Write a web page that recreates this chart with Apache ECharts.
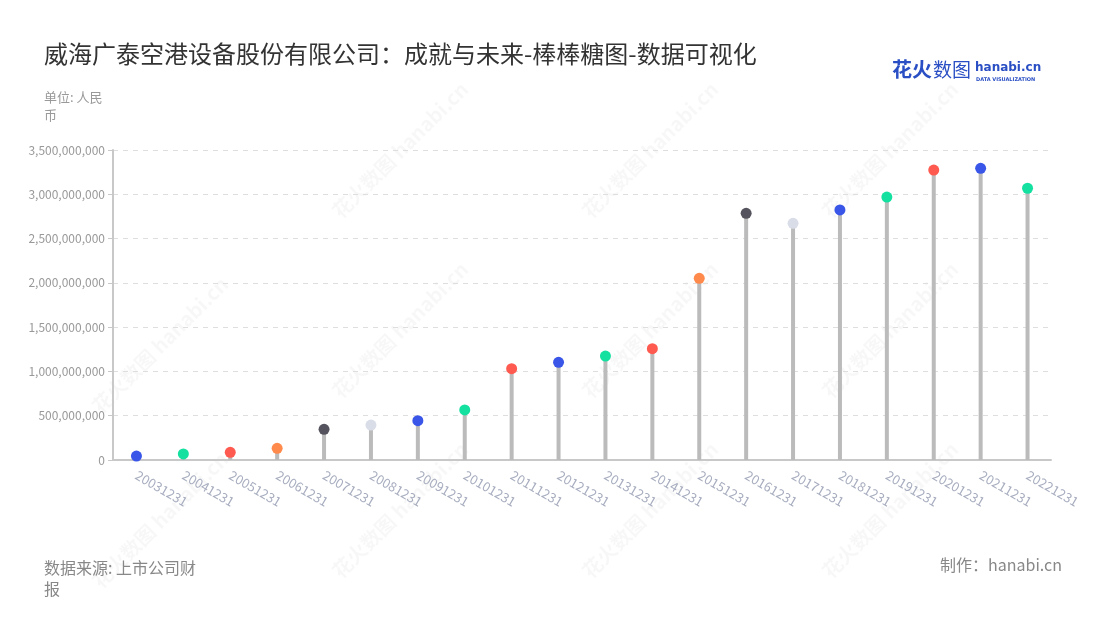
<!DOCTYPE html>
<html>
<head>
<meta charset="utf-8">
<script src="https://cdn.jsdelivr.net/npm/echarts@6/dist/echarts.min.js"></script>
<style>html,body{margin:0;padding:0;background:#fff;}#main{width:1100px;height:620px;}</style>
</head>
<body>
<div id="main"></div>
<script>
var categories = ['20031231','20041231','20051231','20061231','20071231','20081231','20091231','20101231','20111231','20121231','20131231','20141231','20151231','20161231','20171231','20181231','20191231','20201231','20211231','20221231'];
var values = [45000000, 68000000, 87000000, 132000000, 347000000, 395000000, 444000000, 565000000, 1031000000, 1103000000, 1174000000, 1257000000, 2051000000, 2785000000, 2672000000, 2823000000, 2969000000, 3274000000, 3293000000, 3068000000];
var dotColors = ['#3a56e8','#14e0a0','#ff5a4f','#ff8a4c','#55545e','#d9dde8','#3a56e8','#14e0a0','#ff5a4f','#3a56e8','#14e0a0','#ff5a4f','#ff8a4c','#55545e','#d9dde8','#3a56e8','#14e0a0','#ff5a4f','#3a56e8','#14e0a0'];
var yTicks = {min: 0, max: 3500000000, interval: 500000000};

var font = '"Noto Sans CJK SC","Noto Sans",sans-serif';
var chart = echarts.init(document.getElementById('main'), null, {renderer: 'canvas'});

function fmt(v){ return String(v).replace(/\B(?=(\d{3})+(?!\d))/g, ','); }

var wm = [];
var wmPos = [[400,150],[650,150],[890,150],[160,345],[400,330],[650,330],[890,330],[160,520],[400,510],[650,510],[890,510]];
wmPos.forEach(function(p){
  wm.push({type:'text', x:p[0], y:p[1], rotation: Math.PI/4, z: 0,
    style:{text:'花火数图 hanabi.cn', font:'bold 20px ' + font, fill:'rgba(0,0,0,0.03)', align:'center', verticalAlign:'middle'}});
});

var option = {
  backgroundColor: '#fff',
  animation: false,
  title: {
    text: '威海广泰空港设备股份有限公司：成就与未来-棒棒糖图-数据可视化',
    left: 39, top: 37,
    textStyle: {fontSize: 24, fontWeight: 'normal', color: '#333', fontFamily: font}
  },
  grid: {left: 113, right: 49, top: 150, bottom: 160},
  xAxis: {
    type: 'category',
    data: categories,
    axisLine: {lineStyle: {color: '#c8c8c8', width: 2}},
    axisTick: {alignWithLabel: true, lineStyle: {color: '#c8c8c8'}},
    axisLabel: {rotate: -30, color: '#a7adbf', fontSize: 13, fontFamily: font, margin: 14, interval: 0}
  },
  yAxis: {
    type: 'value',
    min: yTicks.min, max: yTicks.max, interval: yTicks.interval,
    axisLine: {show: true, lineStyle: {color: '#c8c8c8', width: 2}},
    axisTick: {show: true, lineStyle: {color: '#c8c8c8'}},
    axisLabel: {color: '#999', fontSize: 12, fontFamily: font, formatter: fmt},
    splitLine: {lineStyle: {type: [5,5], color: '#dedede'}}
  },
  series: [
    {
      type: 'bar', data: values, barWidth: 4,
      itemStyle: {color: '#bbbbbb'}, z: 2
    },
    {
      type: 'scatter',
      data: values.map(function(v, i){ return {value: v, itemStyle: {color: dotColors[i], opacity: 1}}; }),
      symbolSize: 11, z: 3
    }
  ],
  graphic: wm.concat([
    {type:'text', left: 44, top: 88, style:{text:'单位: 人民\n币', font:'13px ' + font, fill:'#999', lineHeight: 18}},
    {type:'text', left: 44, top: 557, style:{text:'数据来源: 上市公司财\n报', font:'16px ' + font, fill:'#888', lineHeight: 21}},
    {type:'text', right: 38, top: 557, style:{text:'制作：hanabi.cn', font:'16px ' + font, fill:'#888'}},
    {type:'text', left: 892, top: 59, style:{text:'花火', font:'bold 20px ' + font, fill:'#2a4fc4'}},
    {type:'text', left: 933, top: 60, style:{text:'数图', font:'19px ' + font, fill:'#2a4fc4'}},
    {type:'text', left: 975, top: 62, style:{text:'hanabi.cn', font:'bold 12px "DejaVu Sans",sans-serif', fill:'#2a4fc4'}},
    {type:'text', left: 976, top: 77, style:{text:'DATA VISUALIZATION', font:'bold 5px "DejaVu Sans",sans-serif', fill:'#2a4fc4'}}
  ])
};
chart.setOption(option);
</script>
</body>
</html>
